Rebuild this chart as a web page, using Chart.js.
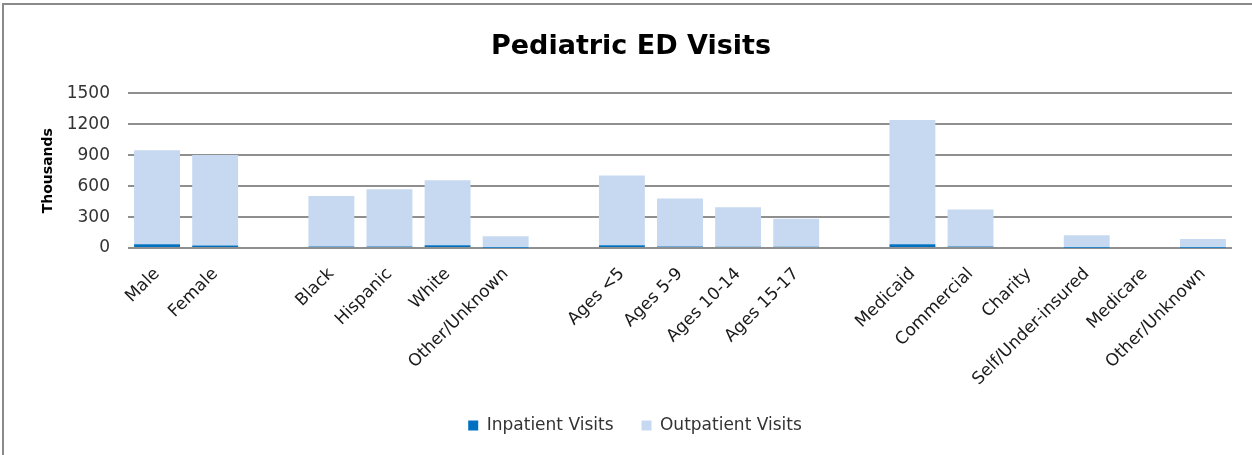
<!DOCTYPE html>
<html>
<head>
<meta charset="utf-8">
<script src="https://cdn.jsdelivr.net/npm/chart.js@4.4.1/dist/chart.umd.min.js"></script>
<style>
html,body{margin:0;padding:0;background:#fff;overflow:hidden;}
#wrap{position:absolute;left:0;top:0;width:1252px;height:455px;}
#frame{position:absolute;left:2px;top:3px;width:1400px;height:600px;border:2px solid #8a8a8a;box-sizing:border-box;}
canvas{position:absolute;left:0;top:0;}
</style>
</head>
<body>
<div id="wrap">
<div id="frame"></div>
<canvas id="c" width="1252" height="455"></canvas>
</div>
<script>
const categories = ["Male","Female","","Black","Hispanic","White","Other/Unknown","","Ages <5","Ages 5-9","Ages 10-14","Ages 15-17","","Medicaid","Commercial","Charity","Self/Under-insured","Medicare","Other/Unknown"];
const inpatientVisits = [36,24,null,15,15,27,3,null,27,15,12,12,null,36,15,0,3,0,2];
const outpatientVisits = [912,878,null,489,554,630,112,null,676,465,384,272,null,1206,358,0,121,0,86];
const yTicks = [0,300,600,900,1200,1500];

const fontFam = "'DejaVu Sans', sans-serif";
const shiftPlugin = {
  id:'shiftBlocks',
  afterLayout(chart){
    if (chart.titleBlock){ chart.titleBlock.left += 15; chart.titleBlock.right += 15; }
    if (chart.legend){ chart.legend.left += 19; chart.legend.right += 19; }
  }
};
new Chart(document.getElementById('c'), {
  type: 'bar',
  data: {
    labels: categories,
    datasets: [
      {label:'Inpatient Visits', data: inpatientVisits, backgroundColor:'#0070C0', categoryPercentage:1, barPercentage:0.79},
      {label:'Outpatient Visits', data: outpatientVisits, backgroundColor:'#C6D9F1', categoryPercentage:1, barPercentage:0.79}
    ]
  },
  plugins:[shiftPlugin],
  options: {
    responsive:false,
    animation:false,
    layout:{padding:{left:0,right:20,top:0,bottom:11}},
    plugins:{
      title:{display:true,text:'Pediatric ED Visits',color:'#000',font:{family:fontFam,size:27,weight:'bold'},padding:{top:31,bottom:30}},
      legend:{position:'bottom',labels:{boxWidth:10,boxHeight:10,color:'#333',font:{family:fontFam,size:17},padding:28}},
      tooltip:{enabled:false}
    },
    scales:{
      x:{stacked:true,grid:{display:false},border:{display:false},
         afterFit:(s)=>{s.paddingLeft=0;s.paddingRight=0;s.height=141;},
         ticks:{autoSkip:false,maxRotation:45,minRotation:45,color:'#1a1a1a',font:{family:fontFam,size:17},padding:8}},
      y:{stacked:true,min:0,max:1500,
         afterBuildTicks:(ax)=>{ax.ticks=yTicks.map(v=>({value:v}));},
         afterFit:(s)=>{s.width=128;},
         grid:{color:'#8f8f8f',lineWidth:2,drawTicks:false},border:{display:false},
         ticks:{color:'#333',font:{family:fontFam,size:17},padding:18,callback:(v)=>String(v)},
         title:{display:true,text:'Thousands',color:'#000',font:{family:fontFam,size:14,weight:'bold'},padding:{top:40,bottom:0}}}
    }
  }
});
</script>
</body>
</html>
